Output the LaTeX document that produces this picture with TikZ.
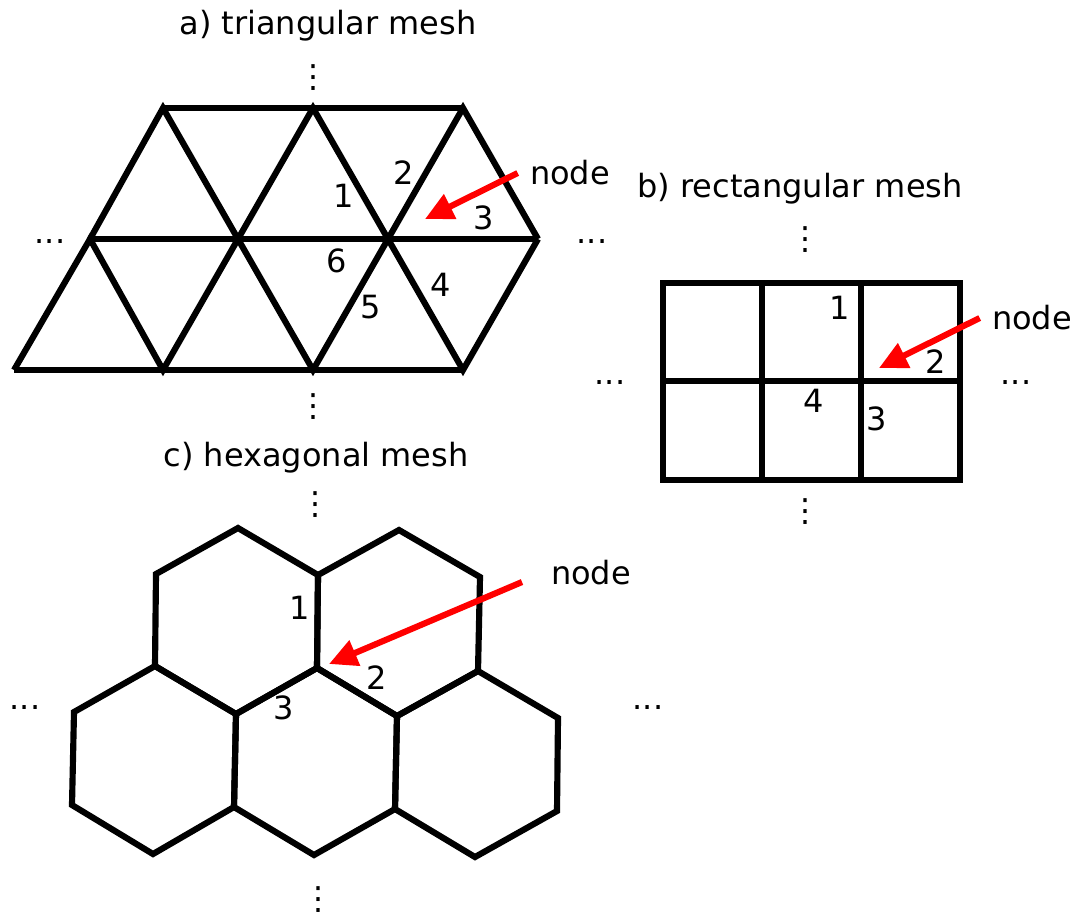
\documentclass[tikz,border=0pt]{standalone}
\usepackage{fontspec}
\setmainfont{DejaVu Sans}
\usetikzlibrary{arrows.meta, calc}

\begin{document}
\begin{tikzpicture}[
    x=0.01cm, y=-0.01cm,
    font=\fontsize{9.1}{11}\selectfont,
    edge/.style={line width=1.75pt},
    pointer/.style={red, line width=1.75pt, -{Triangle[length=8pt, width=7.5pt]}},
    dots/.style={inner sep=0pt},
]
\useasboundingbox (0,0) rectangle (1079,917);

% a) triangular mesh
\node (titleA) at (328,26) {a) triangular mesh};
\foreach \n/\x in {1/163,2/313,3/463} \coordinate (ta\n) at (\x,108);
\foreach \n/\x in {1/90,2/238,3/388,4/538} \coordinate (tm\n) at (\x,239);
\foreach \n/\x in {1/14,2/163,3/313,4/463} \coordinate (tb\n) at (\x,370);
\draw[edge] (ta1) -- (ta3);
\draw[edge] (tm1) -- (tm4);
\draw[edge] (tb1) -- (tb4);
\draw[edge] (tm1) -- (ta1) -- (tm2) -- (ta2) -- (tm3) -- (ta3) -- (tm4);
\draw[edge] (tb1) -- (tm1) -- (tb2) -- (tm2) -- (tb3) -- (tm3) -- (tb4) -- (tm4);
\foreach \t/\x/\y in {1/344/196, 2/404/173, 3/484/218, 4/441/285, 5/371/307, 6/337/261}
    \node (ta-lbl\t) at (\x,\y) {\t};
\node[dots] (vdotsA1) at (313,78) {⋮};
\node[dots] (vdotsA2) at (313,407) {⋮};
\node[dots, anchor=base] (hdotsA1) at (50,243) {...};
\node[dots, anchor=base] (hdotsA2) at (592,243) {...};
\node (nodeA) at (570,173) {node};
\coordinate (tipA) at (425,219);
\draw[pointer] (nodeA.west) -- (tipA);

% b) rectangular mesh
\node (titleB) at (800,189) {b) rectangular mesh};
\coordinate (rtl) at (663,283);
\coordinate (rbr) at (960,480);
\draw[edge] (rtl) rectangle (rbr);
\foreach \x in {762,861} \draw[edge] (\x,283) -- (\x,480);
\draw[edge] (663,381) -- (960,381);
\foreach \t/\x/\y in {1/840/308, 2/936/362, 3/877/419, 4/814/401}
    \node (rb-lbl\t) at (\x,\y) {\t};
\node[dots] (vdotsB1) at (805,240) {⋮};
\node[dots] (vdotsB2) at (805,512) {⋮};
\node[dots, anchor=base] (hdotsB1) at (610,384) {...};
\node[dots, anchor=base] (hdotsB2) at (1016,384) {...};
\node (nodeB) at (1032,318) {node};
\coordinate (tipB) at (879,368);
\draw[pointer] (nodeB.west) -- (tipB);

% c) hexagonal mesh
\node (titleC) at (316,458) {c) hexagonal mesh};
\foreach \n/\x/\y in {1/238/528, 2/399/530, 3/156/574, 4/318/575, 5/480/577,
    6/155/666, 7/317/668, 8/478/671, 9/74/712, 10/236/714, 11/397/716, 12/558/718,
    13/72/805, 14/234/807, 15/395/809, 16/557/811, 17/153/854, 18/314/855, 19/475/857}
    \coordinate (h\n) at (\x,\y);
\foreach \a/\b/\c/\d/\e/\f in {1/4/7/10/6/3, 2/5/8/11/7/4, 6/10/14/17/13/9,
    7/11/15/18/14/10, 8/12/16/19/15/11}
    \draw[edge] (h\a) -- (h\b) -- (h\c) -- (h\d) -- (h\e) -- (h\f) -- cycle;
\foreach \t/\x/\y in {1/300/608, 2/377/678, 3/284/708}
    \node (hc-lbl\t) at (\x,\y) {\t};
\node[dots] (vdotsC1) at (315,505) {⋮};
\node[dots] (vdotsC2) at (318,900) {⋮};
\node[dots, anchor=base] (hdotsC1) at (25,709) {...};
\node[dots, anchor=base] (hdotsC2) at (648,709) {...};
\node (nodeC) at (591,573) {node};
\coordinate (startC) at (522,582);
\coordinate (tipC) at (329,664);
\draw[pointer] (startC) -- (tipC);
\end{tikzpicture}
\end{document}
